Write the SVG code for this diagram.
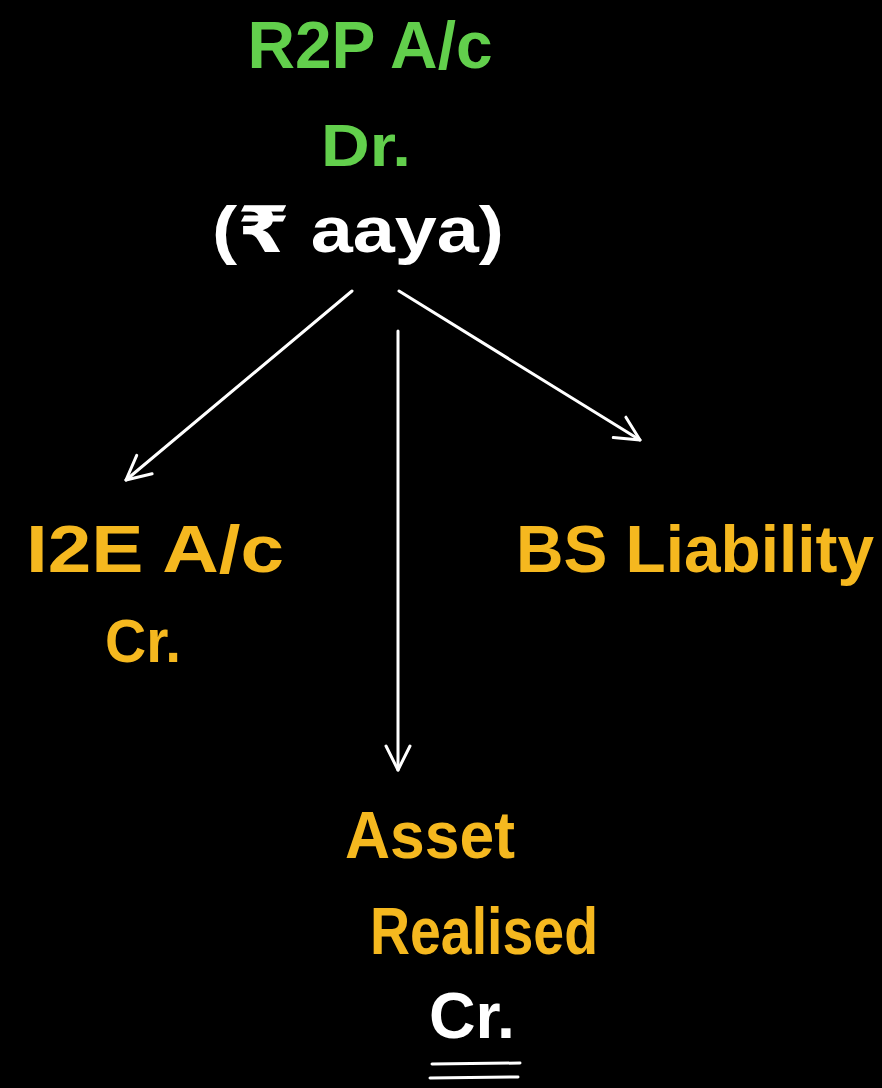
<svg xmlns="http://www.w3.org/2000/svg" width="882" height="1088" viewBox="0 0 882 1088">
<defs>
<style>
text{font-family:"Liberation Sans","DejaVu Sans",sans-serif;font-weight:bold;text-anchor:middle}
.g{fill:#62cf4c}
.y{fill:#f5b81f}
.w{fill:#ffffff}
.c{stroke:#ffffff;stroke-width:3;fill:none;stroke-linecap:round}
</style>
<marker id="ah" viewBox="0 0 20 20" refX="18" refY="10" markerWidth="30" markerHeight="30" markerUnits="userSpaceOnUse" orient="auto">
<path d="M2,2 L18,10 L2,18" fill="none" stroke="#ffffff" stroke-width="2" stroke-linecap="round" stroke-linejoin="round"/>
</marker>
</defs>
<rect width="882" height="1088" fill="#000000"/>
<g id="r2p">
<text class="g" x="370" y="68" font-size="66" textLength="245" lengthAdjust="spacingAndGlyphs">R2P A/c</text>
<text class="g" x="366" y="166" font-size="60" textLength="90" lengthAdjust="spacingAndGlyphs">Dr.</text>
<text class="w" x="358" y="252" font-size="64" textLength="292" lengthAdjust="spacingAndGlyphs">(₹ aaya)</text>
</g>
<g id="i2e">
<text class="y" x="155" y="572" font-size="66" textLength="258" lengthAdjust="spacingAndGlyphs">I2E A/c</text>
<text class="y" x="143" y="662" font-size="62" textLength="76" lengthAdjust="spacingAndGlyphs">Cr.</text>
</g>
<g id="bs">
<text class="y" x="695" y="572" font-size="66" textLength="358" lengthAdjust="spacingAndGlyphs">BS Liability</text>
</g>
<g id="asset">
<text class="y" x="430" y="858" font-size="66" textLength="170" lengthAdjust="spacingAndGlyphs">Asset</text>
<text class="y" x="484" y="954" font-size="66" textLength="228" lengthAdjust="spacingAndGlyphs">Realised</text>
<text class="w" x="472" y="1038" font-size="64" textLength="86" lengthAdjust="spacingAndGlyphs">Cr.</text>
<path class="c" d="M432,1064 L520,1063 M430,1078 L518,1077" stroke-width="5"/>
</g>
<g id="connectors">
<line class="c" x1="352" y1="291" x2="126" y2="480" marker-end="url(#ah)"/>
<line class="c" x1="398" y1="331" x2="398" y2="770" marker-end="url(#ah)"/>
<line class="c" x1="399" y1="291" x2="640" y2="440" marker-end="url(#ah)"/>
</g>
</svg>
